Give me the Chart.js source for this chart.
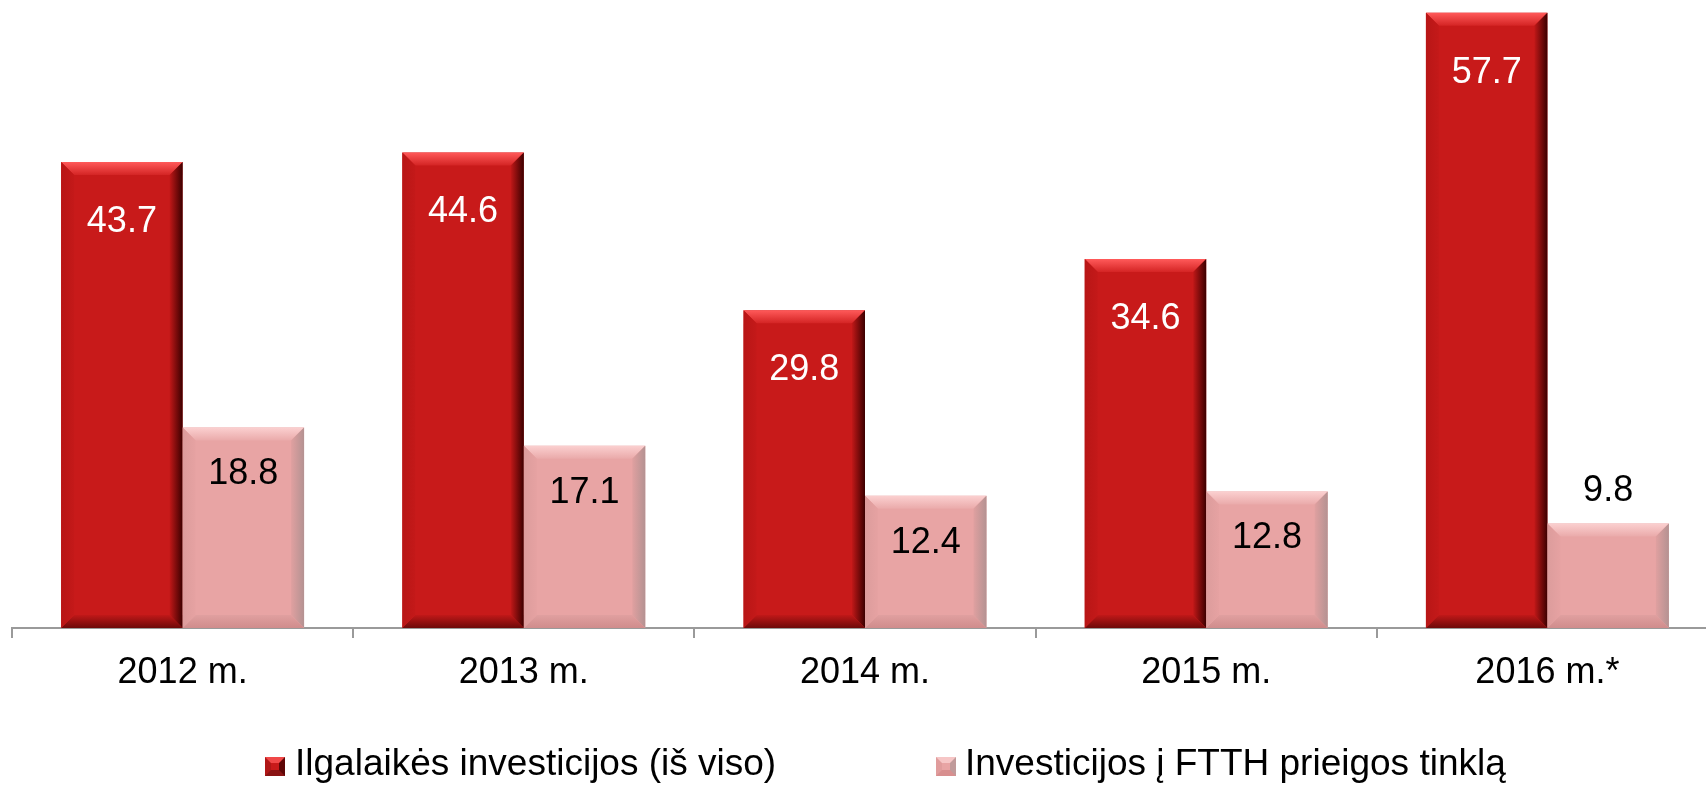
<!DOCTYPE html>
<html>
<head>
<meta charset="utf-8">
<script src="https://cdn.jsdelivr.net/npm/chart.js@4.4.1/dist/chart.umd.min.js"></script>
<style>
    html, body { margin: 0; padding: 0; background: #fff; overflow: hidden; }
    #wrap { position: relative; width: 1706px; height: 786px; overflow: hidden; }
    #chart { position: absolute; left: 0; top: 0; }
    .leg-box { position: absolute; top: 757px; width: 8px; height: 7px; border-style: solid; border-width: 6px; }
    .leg-text { position: absolute; top: 744px; font: 37px "Liberation Sans", Arial, sans-serif; line-height: 37px; color: #000; white-space: nowrap; }
    .box-red { background: #c81a1a; border-color: #f04848 #5e0606 #8a1414 #b01717; }
    .box-pink { background: #e8a4a4; border-color: #f6c6c6 #c09a9a #d88f8f #e09c9c; }
</style>
</head>
<body>
<div id="wrap">
    <canvas id="chart" width="1718" height="786"></canvas>
    <span class="leg-box box-red" style="left:265px"></span>
    <span class="leg-text" id="leg0" style="left:295px"></span>
    <span class="leg-box box-pink" style="left:936px"></span>
    <span class="leg-text" id="leg1" style="left:965px"></span>
</div>
<script>
// ===================== DATA =====================
const categories = ['2012 m.', '2013 m.', '2014 m.', '2015 m.', '2016 m.*'];
const totalInvest = [43.7, 44.6, 29.8, 34.6, 57.7];
const ftthInvest = [18.8, 17.1, 12.4, 12.8, 9.8];
const seriesNames = ['Ilgalaikės investicijos (iš viso)', 'Investicijos į FTTH prieigos tinklą'];

document.getElementById('leg0').textContent = seriesNames[0];
document.getElementById('leg1').textContent = seriesNames[1];

const FONT = '"Liberation Sans", Arial, sans-serif';

// bevel colours per dataset: top, right, bottom, left
const bevels = [
    { top: ['#ff5a5a', '#d42424'], right: ['#c01818', '#3c0000'], bottom: ['#c01818', '#6e0a0a'], left: ['#b81616', '#c41919'] },
    { top: ['#fbd0d0', '#eaaaaa'], right: ['#e0a0a0', '#b49292'], bottom: ['#e0a0a0', '#d08c8c'], left: ['#dc9c9c', '#e6a2a2'] }
];

function poly(ctx, pts, fill) {
    ctx.beginPath();
    ctx.moveTo(pts[0][0], pts[0][1]);
    for (let i = 1; i < pts.length; i++) ctx.lineTo(pts[i][0], pts[i][1]);
    ctx.closePath();
    ctx.fillStyle = fill;
    ctx.fill();
}

// Bevel look + value labels
const barDecor = {
    id: 'barDecor',
    afterDatasetsDraw(chart) {
        const ctx = chart.ctx;
        chart.data.datasets.forEach(function(ds, di) {
            const meta = chart.getDatasetMeta(di);
            const bv = bevels[di];
            meta.data.forEach(function(bar, i) {
                const x0 = bar.x - bar.width / 2, x1 = bar.x + bar.width / 2;
                const y0 = bar.y, y1 = bar.base;
                const b = 13;
                ctx.save();
                let g = ctx.createLinearGradient(0, y0, 0, y0 + b);
                g.addColorStop(0, bv.top[0]); g.addColorStop(1, bv.top[1]);
                poly(ctx, [[x0, y0], [x1, y0], [x1 - b, y0 + b], [x0 + b, y0 + b]], g);
                g = ctx.createLinearGradient(x1 - b, 0, x1, 0);
                g.addColorStop(0, bv.right[0]); g.addColorStop(1, bv.right[1]);
                poly(ctx, [[x1, y0], [x1, y1], [x1 - b, y1 - b], [x1 - b, y0 + b]], g);
                g = ctx.createLinearGradient(0, y1 - b, 0, y1);
                g.addColorStop(0, bv.bottom[0]); g.addColorStop(1, bv.bottom[1]);
                poly(ctx, [[x0, y1], [x1, y1], [x1 - b, y1 - b], [x0 + b, y1 - b]], g);
                g = ctx.createLinearGradient(x0, 0, x0 + b, 0);
                g.addColorStop(0, bv.left[0]); g.addColorStop(1, bv.left[1]);
                poly(ctx, [[x0, y0], [x0 + b, y0 + b], [x0 + b, y1 - b], [x0, y1]], g);

                // value label
                const val = ds.data[i].toFixed(1);
                ctx.font = '36px ' + FONT;
                ctx.textAlign = 'center';
                ctx.textBaseline = 'middle';
                let ly;
                if (di === 0) {
                    ctx.fillStyle = '#ffffff';
                    ly = y0 + 60;
                } else {
                    ctx.fillStyle = '#000000';
                    ly = (y1 - y0) < 120 ? y0 - 32 : y0 + 47;
                }
                ctx.fillText(val, bar.x, ly);
                ctx.restore();
            });
        });
    }
};

const ctx = document.getElementById('chart').getContext('2d');
const investChart = new Chart(ctx, {
    type: 'bar',
    data: {
        labels: categories,
        datasets: [{
            label: seriesNames[0],
            data: totalInvest,
            backgroundColor: '#c81a1a',
            borderWidth: 0
        }, {
            label: seriesNames[1],
            data: ftthInvest,
            backgroundColor: '#e8a4a4',
            borderWidth: 0
        }]
    },
    options: {
        responsive: false,
        animation: false,
        categoryPercentage: 0.712,
        barPercentage: 1,
        layout: { padding: { left: 12, top: 0, right: 0, bottom: 0 } },
        plugins: {
            legend: { display: false },
            tooltip: { enabled: false }
        },
        scales: {
            x: {
                grid: {
                    offset: true,
                    drawOnChartArea: false,
                    drawTicks: true,
                    tickLength: 10,
                    color: '#9a9a9a',
                    lineWidth: 2
                },
                border: { display: true, color: '#9a9a9a', width: 2 },
                ticks: {
                    color: '#000',
                    padding: 13,
                    font: { size: 36, family: FONT }
                },
                afterFit: function(scale) { scale.height = 158; }
            },
            y: {
                display: false,
                min: 0,
                max: 58.9
            }
        }
    },
    plugins: [barDecor]
});
</script>
</body>
</html>
